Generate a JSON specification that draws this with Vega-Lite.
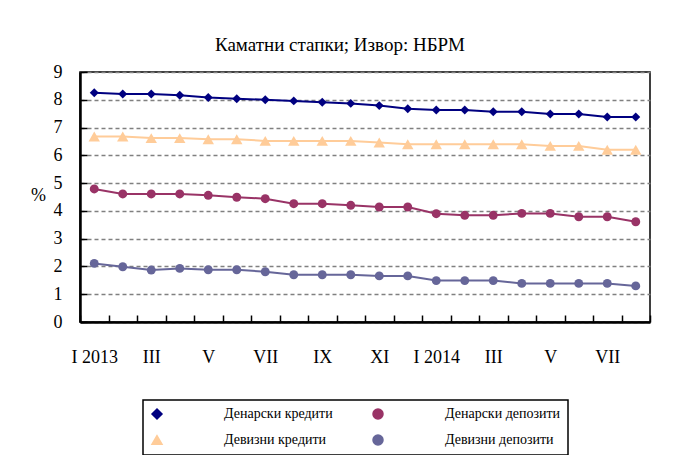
{
  "$schema": "https://vega.github.io/schema/vega-lite/v6.json",
  "width": 570,
  "height": 250,
  "autosize": {"type": "none"},
  "padding": {"left": 80, "top": 72, "right": 25, "bottom": 133},
  "background": "white",
  "title": {"text": "Каматни стапки; Извор: НБРМ", "font": "Liberation Serif", "fontSize": 19, "fontWeight": "normal", "color": "black", "anchor": "middle", "offset": 8, "dx": -25},
  "config": {
    "font": "Liberation Serif",
    "view": {"stroke": "black", "strokeWidth": 1.5}
  },
  "data": {"values": [
    {"m":"2013-01","s":"Денарски кредити","v":8.25},{"m":"2013-02","s":"Денарски кредити","v":8.21},{"m":"2013-03","s":"Денарски кредити","v":8.21},{"m":"2013-04","s":"Денарски кредити","v":8.16},{"m":"2013-05","s":"Денарски кредити","v":8.08},{"m":"2013-06","s":"Денарски кредити","v":8.04},{"m":"2013-07","s":"Денарски кредити","v":8.0},{"m":"2013-08","s":"Денарски кредити","v":7.96},{"m":"2013-09","s":"Денарски кредити","v":7.91},{"m":"2013-10","s":"Денарски кредити","v":7.87},{"m":"2013-11","s":"Денарски кредити","v":7.79},{"m":"2013-12","s":"Денарски кредити","v":7.68},{"m":"2014-01","s":"Денарски кредити","v":7.63},{"m":"2014-02","s":"Денарски кредити","v":7.63},{"m":"2014-03","s":"Денарски кредити","v":7.57},{"m":"2014-04","s":"Денарски кредити","v":7.57},{"m":"2014-05","s":"Денарски кредити","v":7.49},{"m":"2014-06","s":"Денарски кредити","v":7.49},{"m":"2014-07","s":"Денарски кредити","v":7.38},{"m":"2014-08","s":"Денарски кредити","v":7.38},
    {"m":"2013-01","s":"Денарски депозити","v":4.79},{"m":"2013-02","s":"Денарски депозити","v":4.61},{"m":"2013-03","s":"Денарски депозити","v":4.61},{"m":"2013-04","s":"Денарски депозити","v":4.61},{"m":"2013-05","s":"Денарски депозити","v":4.56},{"m":"2013-06","s":"Денарски депозити","v":4.49},{"m":"2013-07","s":"Денарски депозити","v":4.44},{"m":"2013-08","s":"Денарски депозити","v":4.26},{"m":"2013-09","s":"Денарски депозити","v":4.26},{"m":"2013-10","s":"Денарски депозити","v":4.2},{"m":"2013-11","s":"Денарски депозити","v":4.14},{"m":"2013-12","s":"Денарски депозити","v":4.14},{"m":"2014-01","s":"Денарски депозити","v":3.9},{"m":"2014-02","s":"Денарски депозити","v":3.84},{"m":"2014-03","s":"Денарски депозити","v":3.84},{"m":"2014-04","s":"Денарски депозити","v":3.91},{"m":"2014-05","s":"Денарски депозити","v":3.91},{"m":"2014-06","s":"Денарски депозити","v":3.79},{"m":"2014-07","s":"Денарски депозити","v":3.79},{"m":"2014-08","s":"Денарски депозити","v":3.61},
    {"m":"2013-01","s":"Девизни кредити","v":6.68},{"m":"2013-02","s":"Девизни кредити","v":6.68},{"m":"2013-03","s":"Девизни кредити","v":6.62},{"m":"2013-04","s":"Девизни кредити","v":6.62},{"m":"2013-05","s":"Девизни кредити","v":6.58},{"m":"2013-06","s":"Девизни кредити","v":6.58},{"m":"2013-07","s":"Девизни кредити","v":6.52},{"m":"2013-08","s":"Девизни кредити","v":6.52},{"m":"2013-09","s":"Девизни кредити","v":6.52},{"m":"2013-10","s":"Девизни кредити","v":6.52},{"m":"2013-11","s":"Девизни кредити","v":6.46},{"m":"2013-12","s":"Девизни кредити","v":6.4},{"m":"2014-01","s":"Девизни кредити","v":6.4},{"m":"2014-02","s":"Девизни кредити","v":6.4},{"m":"2014-03","s":"Девизни кредити","v":6.4},{"m":"2014-04","s":"Девизни кредити","v":6.4},{"m":"2014-05","s":"Девизни кредити","v":6.34},{"m":"2014-06","s":"Девизни кредити","v":6.34},{"m":"2014-07","s":"Девизни кредити","v":6.2},{"m":"2014-08","s":"Девизни кредити","v":6.2},
    {"m":"2013-01","s":"Девизни депозити","v":2.11},{"m":"2013-02","s":"Девизни депозити","v":1.99},{"m":"2013-03","s":"Девизни депозити","v":1.87},{"m":"2013-04","s":"Девизни депозити","v":1.93},{"m":"2013-05","s":"Девизни депозити","v":1.88},{"m":"2013-06","s":"Девизни депозити","v":1.88},{"m":"2013-07","s":"Девизни депозити","v":1.81},{"m":"2013-08","s":"Девизни депозити","v":1.7},{"m":"2013-09","s":"Девизни депозити","v":1.7},{"m":"2013-10","s":"Девизни депозити","v":1.7},{"m":"2013-11","s":"Девизни депозити","v":1.66},{"m":"2013-12","s":"Девизни депозити","v":1.66},{"m":"2014-01","s":"Девизни депозити","v":1.49},{"m":"2014-02","s":"Девизни депозити","v":1.49},{"m":"2014-03","s":"Девизни депозити","v":1.49},{"m":"2014-04","s":"Девизни депозити","v":1.39},{"m":"2014-05","s":"Девизни депозити","v":1.39},{"m":"2014-06","s":"Девизни депозити","v":1.39},{"m":"2014-07","s":"Девизни депозити","v":1.39},{"m":"2014-08","s":"Девизни депозити","v":1.3}
  ]},
  "encoding": {
    "x": {"field": "m", "type": "ordinal", "sort": null, "scale": {"type": "band", "paddingInner": 0, "paddingOuter": 0},
      "axis": {"title": null, "labelAngle": 0, "labelFontSize": 18, "labelColor": "black", "labelFont": "Liberation Serif",
        "labelExpr": "['I 2013','III','V','VII','IX','XI','I 2014','III','V','VII'][indexof(['2013-01','2013-03','2013-05','2013-07','2013-09','2013-11','2014-01','2014-03','2014-05','2014-07'], datum.value)] || ''",
        "tickBand": "extent", "tickSize": -7, "tickColor": "black", "tickWidth": 1.5, "labelPadding": 33,
        "domainColor": "black", "domainWidth": 2.5, "grid": false}},
    "y": {"field": "v", "type": "quantitative", "scale": {"domain": [0, 9], "nice": false},
      "axis": {"title": "%", "titleAngle": 0, "titleX": -42, "titleY": 123, "titleFontSize": 18, "titleFontWeight": "normal", "titleColor": "black", "titleAlign": "center", "titleBaseline": "middle",
        "values": [0,1,2,3,4,5,6,7,8,9], "labelFontSize": 18, "labelColor": "black", "labelPadding": 25,
        "tickSize": -7, "tickColor": "black", "tickWidth": 1.5,
        "domainColor": "black", "domainWidth": 2.5,
        "grid": true, "gridColor": "#808080", "gridDash": [4, 3], "gridWidth": 1.5}},
    "color": {"field": "s", "type": "nominal",
      "scale": {"domain": ["Денарски кредити", "Денарски депозити", "Девизни кредити", "Девизни депозити"], "range": ["#000080", "#993366", "#FFCC99", "#666699"]},
      "legend": {"title": null, "orient": "none", "legendX": 63, "legendY": 328, "direction": "horizontal", "columns": 2,
         "strokeColor": "black", "padding": 7, "columnPadding": 37, "rowPadding": 10,
         "labelFont": "Liberation Serif", "labelFontSize": 14, "labelColor": "black", "labelOffset": 60, "symbolSize": 100, "labelLimit": 300,
         "encode": {"legend": {"update": {"strokeWidth": {"value": 1.5}}}}}}
  },
  "layer": [
    {"mark": {"type": "line", "strokeWidth": 2}},
    {"mark": {"type": "point", "filled": true, "opacity": 1},
     "encoding": {
       "shape": {"field": "s", "type": "nominal", "legend": null,
         "scale": {"domain": ["Денарски кредити", "Денарски депозити", "Девизни кредити", "Девизни депозити"], "range": ["diamond", "circle", "triangle-up", "circle"]}},
       "size": {"condition": {"test": "datum.s == 'Девизни кредити'", "value": 130}, "value": 80}}}
  ]
}
